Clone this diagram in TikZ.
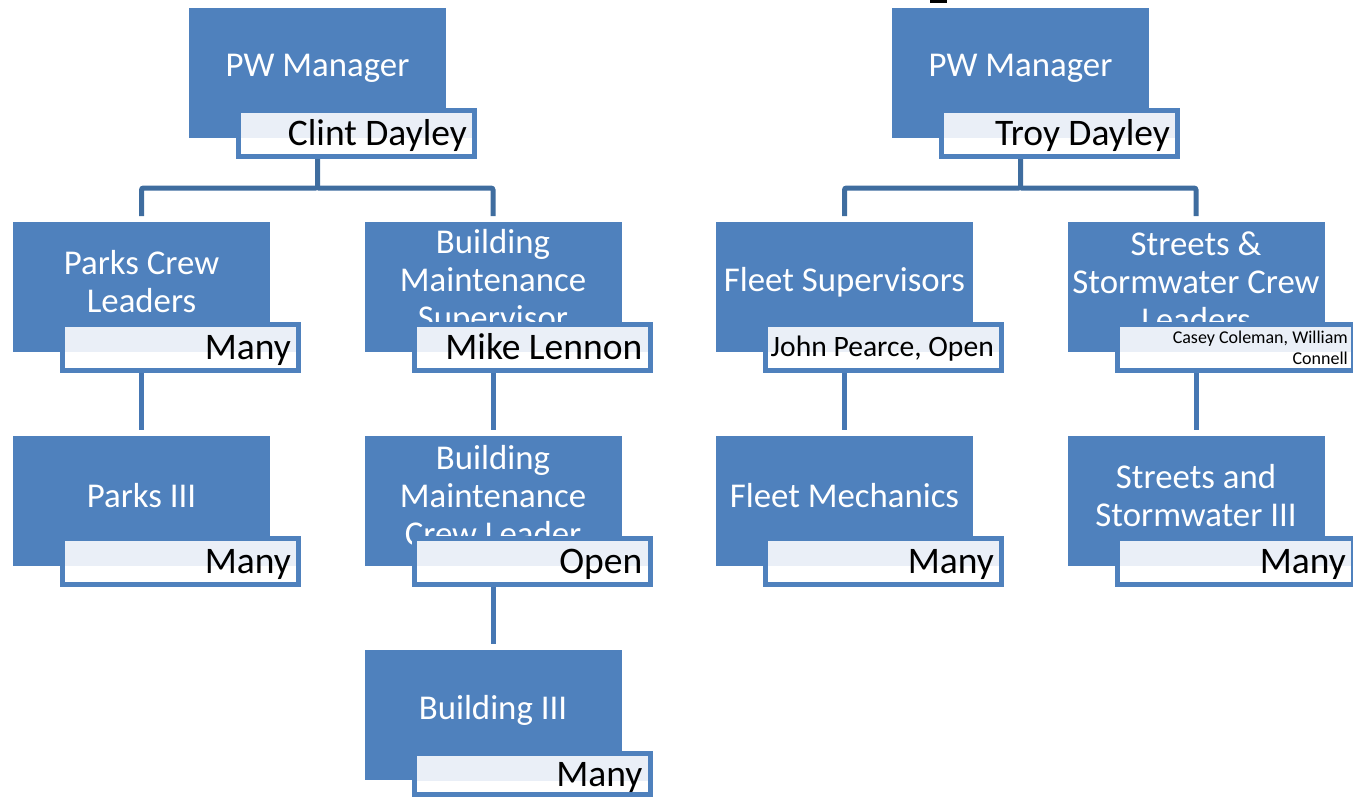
\documentclass[tikz,border=0pt]{standalone}
\usepackage{fontspec}
\setmainfont{Carlito}
\definecolor{boxblue}{HTML}{4F81BD}
\definecolor{bandblue}{HTML}{EAEFF7}
\definecolor{conntop}{HTML}{3F6D9F}
\definecolor{connlow}{HTML}{4677B3}
\tikzset{
  mainbox/.style={fill=boxblue, draw=none, minimum width=257pt, minimum height=130pt, inner sep=0pt, outer sep=0pt},
  maintext/.style={text=white, font=\fontsize{34.8}{38}\selectfont, align=center, inner sep=0pt, anchor=center},
  namebox/.style={draw=boxblue, line width=5pt, fill=white, minimum width=236pt, minimum height=46pt, inner sep=0pt, outer sep=0pt,
    path picture={\fill[bandblue] (path picture bounding box.north west) rectangle ([yshift=-27.5pt]path picture bounding box.north east);}},
  nametext/.style={text=black, font=\fontsize{37.5}{42}\selectfont, inner sep=0pt, anchor=base east},
  conntopline/.style={draw=conntop, line width=5pt, rounded corners=2pt},
  connlowline/.style={draw=connlow, line width=5pt},
}
\begin{document}
\begin{tikzpicture}[x=1pt,y=-1pt]
\useasboundingbox (0,0) rectangle (1353,798);
% small mark at top
\fill[black] (930,0) rectangle (947,2.5);

% main boxes
\node[mainbox] (a1) at (317.5,73) {};
\node[mainbox] (b1) at (141.5,287) {};
\node[mainbox] (b2) at (493,287) {};
\node[mainbox] (c1) at (141.5,501) {};
\node[mainbox] (c2) at (493,501) {};
\node[mainbox] (d2) at (493,715) {};
\node[mainbox] (a2) at (1020.5,73) {};
\node[mainbox] (e1) at (844.5,287) {};
\node[mainbox] (e2) at (1196,287) {};
\node[mainbox] (f1) at (844.5,501) {};
\node[mainbox] (f2) at (1196,501) {};

% main texts
\node[maintext] (a1t) at ([yshift=-60pt]a1.north) {PW Manager};
\node[maintext] (b1t) at ([yshift=-60pt]b1.north) {Parks Crew\\Leaders};
\node[maintext] (b2t) at ([yshift=-60pt]b2.north) {Building\\Maintenance\\Supervisor};
\node[maintext] (c1t) at ([yshift=-60pt]c1.north) {Parks III};
\node[maintext] (c2t) at ([yshift=-60pt]c2.north) {Building\\Maintenance\\Crew Leader};
\node[maintext] (d2t) at ([yshift=-60pt]d2.north) {Building III};
\node[maintext] (a2t) at ([yshift=-60pt]a2.north) {PW Manager};
\node[maintext] (e1t) at ([yshift=-60pt]e1.north) {Fleet Supervisors};
\node[maintext] (e2t) at ([yshift=-60pt]e2.north) {Streets \&\\Stormwater Crew\\Leaders};
\node[maintext] (f1t) at ([yshift=-60pt]f1.north) {Fleet Mechanics};
\node[maintext] (f2t) at ([yshift=-60pt]f2.north) {Streets and\\Stormwater III};

% connectors
\coordinate (jL) at (317.5,188);
\coordinate (jR) at (1020.5,188);
\draw[conntopline] (a1.south) -- (jL) -| ([yshift=6pt]b1.north);
\draw[conntopline] (jL) -| ([yshift=6pt]b2.north);
\draw[conntopline] (a2.south) -- (jR) -| ([yshift=6pt]e1.north);
\draw[conntopline] (jR) -| ([yshift=6pt]e2.north);
\draw[connlowline] (b1.south) -- ([yshift=6pt]c1.north);
\draw[connlowline] (b2.south) -- ([yshift=6pt]c2.north);
\draw[connlowline] (c2.south) -- ([yshift=6pt]d2.north);
\draw[connlowline] (e1.south) -- ([yshift=6pt]f1.north);
\draw[connlowline] (e2.south) -- ([yshift=6pt]f2.north);

% name boxes
\node[namebox] (a1n) at (356.5,133.5) {};
\node[namebox] (b1n) at (180.5,347.5) {};
\node[namebox] (b2n) at (532,347.5) {};
\node[namebox] (c1n) at (180.5,561.5) {};
\node[namebox] (c2n) at (532,561.5) {};
\node[namebox, minimum height=41pt] (d2n) at (532,774) {};
\node[namebox] (a2n) at (1059.5,133.5) {};
\node[namebox] (e1n) at (883.5,347.5) {};
\node[namebox] (e2n) at (1235.5,347.5) {};
\node[namebox] (f1n) at (883.5,561.5) {};
\node[namebox] (f2n) at (1235.5,561.5) {};

% name texts
\node[nametext] (a1nt) at ([xshift=-7.5pt,yshift=11pt]a1n.south east) {Clint Dayley};
\node[nametext] (b1nt) at ([xshift=-7.5pt,yshift=11pt]b1n.south east) {Many};
\node[nametext] (b2nt) at ([xshift=-7.5pt,yshift=11pt]b2n.south east) {Mike Lennon};
\node[nametext] (c1nt) at ([xshift=-7.5pt,yshift=11pt]c1n.south east) {Many};
\node[nametext] (c2nt) at ([xshift=-7.5pt,yshift=11pt]c2n.south east) {Open};
\node[nametext] (d2nt) at ([xshift=-7.5pt,yshift=8pt]d2n.south east) {Many};
\node[nametext] (a2nt) at ([xshift=-7.5pt,yshift=11pt]a2n.south east) {Troy Dayley};
\node[nametext, font=\fontsize{29.6}{34}\selectfont] (e1nt) at ([xshift=-7.5pt,yshift=14.5pt]e1n.south east) {John Pearce, Open};
\node[nametext, font=\fontsize{18}{20.5}\selectfont, align=right, anchor=south east] (e2nt) at ([xshift=-5.5pt,yshift=6pt]e2n.south east) {Casey Coleman, William\\Connell};
\node[nametext] (f1nt) at ([xshift=-7.5pt,yshift=11pt]f1n.south east) {Many};
\node[nametext] (f2nt) at ([xshift=-7.5pt,yshift=11pt]f2n.south east) {Many};
\end{tikzpicture}
\end{document}
